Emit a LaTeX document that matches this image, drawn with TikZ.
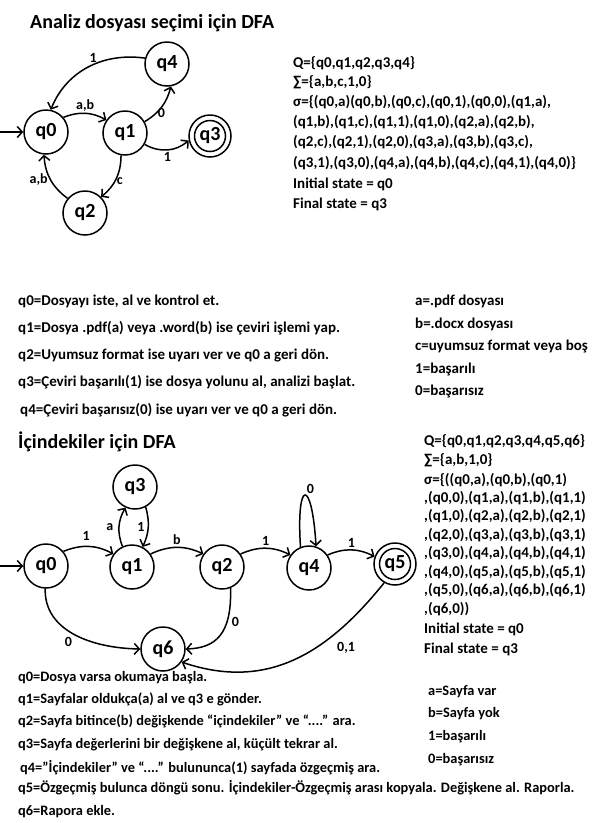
\documentclass[tikz,border=0pt]{standalone}
\usepackage{fontspec}
\setmainfont{Carlito}
\usetikzlibrary{arrows.meta}
\begin{document}
\begin{tikzpicture}[x=1pt,y=-1pt,
  state/.style={circle,draw,line width=1.5pt,minimum size=44pt,inner sep=0pt,font=\fontsize{20}{22}\selectfont\bfseries},
  inner/.style={circle,draw,line width=1.5pt,minimum size=31pt,inner sep=0pt},
  edge/.style={line width=1.5pt,-{Straight Barb[length=5pt,width=11pt,line width=1.5pt]}},
  elab/.style={font=\fontsize{14}{16}\selectfont\bfseries,inner sep=1pt},
  txt/.style={font=\fontsize{15}{17}\selectfont\bfseries,anchor=base west,inner sep=0pt},
  txtb/.style={font=\fontsize{14.4}{17}\selectfont\bfseries,anchor=base west,inner sep=0pt},
  ttl/.style={font=\fontsize{20}{22}\selectfont\bfseries,anchor=base west,inner sep=0pt}]
\useasboundingbox (0,0) rectangle (596,823);
\fill[white] (0,0) rectangle (596,823);
% ---------- top diagram ----------
\node[ttl] (T1) at (30,28) {Analiz dosyası seçimi için DFA};
\node[state] (A0) at (46,132) {q0};
\node[state] (A1) at (125,133) {q1};
\node[state] (A2) at (85,213) {q2};
\node[state,minimum size=42pt] (A3) at (210,136) {q3};
\node[inner] (A3i) at (210,136) {};
\node[state] (A4) at (167,64) {q4};
\coordinate (A0s) at (0,132);
\draw[edge] (A0s) -- (A0);
\draw[edge] (A4.165) to[out=172,in=68] node[elab,above,pos=0.45] {1} (A0.78);
\draw[edge] (A0.40) to[bend left=25] node[elab,above] {a,b} (A1.145);
\draw[edge] (A1.30) to[bend right=22] node[elab,right,pos=0.3] {0} (A4.-80);
\draw[edge] (A1.-30) to[bend right=35] node[elab,below=1pt] {1} (A3.192);
\draw[edge] (A1.-100) to[bend left=25] node[elab,right,pos=0.55] {c} (A2.45);
\draw[edge] (A2.140) to[bend left=25] node[elab,left=1pt] {a,b} (A0.-95);
% top right text
\node[txt] (S1) at (293,67) {Q=\{q0,q1,q2,q3,q4\}};
\node[txt] (S2) at (293,86) {∑=\{a,b,c,1,0\}};
\node[txt] (S3) at (293,106) {σ=\{(q0,a)(q0,b),(q0,c),(q0,1),(q0,0),(q1,a),};
\node[txt] (S4) at (293,126) {(q1,b),(q1,c),(q1,1),(q1,0),(q2,a),(q2,b),};
\node[txt] (S5) at (293,146) {(q2,c),(q2,1),(q2,0),(q3,a),(q3,b),(q3,c),};
\node[txt] (S6) at (293,167) {(q3,1),(q3,0),(q4,a),(q4,b),(q4,c),(q4,1),(q4,0)\}};
\node[txt] (S7) at (293,188) {Initial state = q0};
\node[txt] (S8) at (293,208) {Final state = q3};
% middle text
\node[txt] (M1) at (18,305) {q0=Dosyayı iste, al ve kontrol et.};
\node[txt] (M2) at (18,332) {q1=Dosya .pdf(a) veya .word(b) ise çeviri işlemi yap.};
\node[txt] (M3) at (18,359) {q2=Uyumsuz format ise uyarı ver ve q0 a geri dön.};
\node[txt] (M4) at (18,386) {q3=Çeviri başarılı(1) ise dosya yolunu al, analizi başlat.};
\node[txt] (M5) at (20,414) {q4=Çeviri başarısız(0) ise uyarı ver ve q0 a geri dön.};
\node[txt] (N1) at (415,305) {a=.pdf dosyası};
\node[txt] (N2) at (415,328) {b=.docx dosyası};
\node[txt] (N3) at (415,350) {c=uyumsuz format veya boş};
\node[txt] (N4) at (415,373) {1=başarılı};
\node[txt] (N5) at (415,395) {0=başarısız};
% ---------- bottom diagram ----------
\node[ttl] (T2) at (18,448) {İçindekiler için DFA};
\node[state] (B0) at (46,566) {q0};
\node[state] (B1) at (132,567) {q1};
\node[state] (B3) at (135,487) {q3};
\node[state] (B2) at (222,567) {q2};
\node[state] (B4) at (309,568) {q4};
\node[state,minimum size=42pt] (B5) at (395,564) {q5};
\node[inner] (B5i) at (395,564) {};
\node[state] (B6) at (163,649) {q6};
\coordinate (B0s) at (0,566);
\draw[edge] (B0s) -- (B0);
\draw[edge] (B0.40) to[bend left=25] node[elab,above=4pt,pos=0.45] {1} (B1.145);
\draw[edge] (B1.115) to[bend left=25] node[elab,left=4pt] {a} (B3.-115);
\draw[edge] (B3.-62) to[bend left=20] node[elab,left=2pt] {1} (B1.62);
\draw[edge] (B1.35) to[bend left=25] node[elab,above=1pt] {b} (B2.145);
\draw[edge] (B2.35) to[bend left=25] node[elab,above=1pt] {1} (B4.145);
\draw[edge] (B4.112) .. controls (296,478) and (312,478) .. node[elab,above right,pos=0.5] {0} (B4.72);
\draw[edge] (B4.35) to[bend left=25] node[elab,above=1pt] {1} (B5.160);
\draw[edge] (B0.-92) .. controls (44,630) and (90,648) .. node[elab,below=5pt,pos=0.45] {0} (B6.180);
\draw[edge] (B2.-68) .. controls (232,635) and (215,648) .. node[elab,right=3pt,pos=0.3] {0} (B6.0);
\draw[edge] (B5.-120) .. controls (330,650) and (270,692) .. node[elab,pos=0.25,xshift=4pt,yshift=-20pt] {0,1} (B6.-35);
% bottom right text
\node[txt] (R1) at (424,445) {Q=\{q0,q1,q2,q3,q4,q5,q6\}};
\node[txt] (R2) at (424,464) {∑=\{a,b,1,0\}};
\node[txt] (R3) at (424,484) {σ=\{((q0,a),(q0,b),(q0,1)};
\node[txt] (R4) at (424,502) {,(q0,0),(q1,a),(q1,b),(q1,1)};
\node[txt] (R5) at (424,520) {,(q1,0),(q2,a),(q2,b),(q2,1)};
\node[txt] (R6) at (424,539) {,(q2,0),(q3,a),(q3,b),(q3,1)};
\node[txt] (R7) at (424,557) {,(q3,0),(q4,a),(q4,b),(q4,1)};
\node[txt] (R8) at (424,576) {,(q4,0),(q5,a),(q5,b),(q5,1)};
\node[txt] (R9) at (424,594) {,(q5,0),(q6,a),(q6,b),(q6,1)};
\node[txt] (R10) at (424,613) {,(q6,0))};
\node[txt] (R11) at (424,633) {Initial state = q0};
\node[txt] (R12) at (424,653) {Final state = q3};
% bottom text
\node[txtb] (L1) at (18,681) {q0=Dosya varsa okumaya başla.};
\node[txtb] (L2) at (18,703) {q1=Sayfalar oldukça(a) al ve q3 e gönder.};
\node[txtb] (L3) at (18,725) {q2=Sayfa bitince(b) değişkende “içindekiler” ve “....” ara.};
\node[txtb] (L4) at (18,748) {q3=Sayfa değerlerini bir değişkene al, küçült tekrar al.};
\node[txtb] (L5) at (20,772) {q4=”İçindekiler” ve “....” bulununca(1) sayfada özgeçmiş ara.};
\node[txtb] (L6) at (18,792) {q5=Özgeçmiş bulunca döngü sonu. İçindekiler-Özgeçmiş arası kopyala. Değişkene al. Raporla.};
\node[txtb] (L7) at (18,815) {q6=Rapora ekle.};
\node[txtb] (K1) at (428,695) {a=Sayfa var};
\node[txtb] (K2) at (428,717) {b=Sayfa yok};
\node[txtb] (K3) at (428,740) {1=başarılı};
\node[txtb] (K4) at (428,763) {0=başarısız};
\end{tikzpicture}
\end{document}
